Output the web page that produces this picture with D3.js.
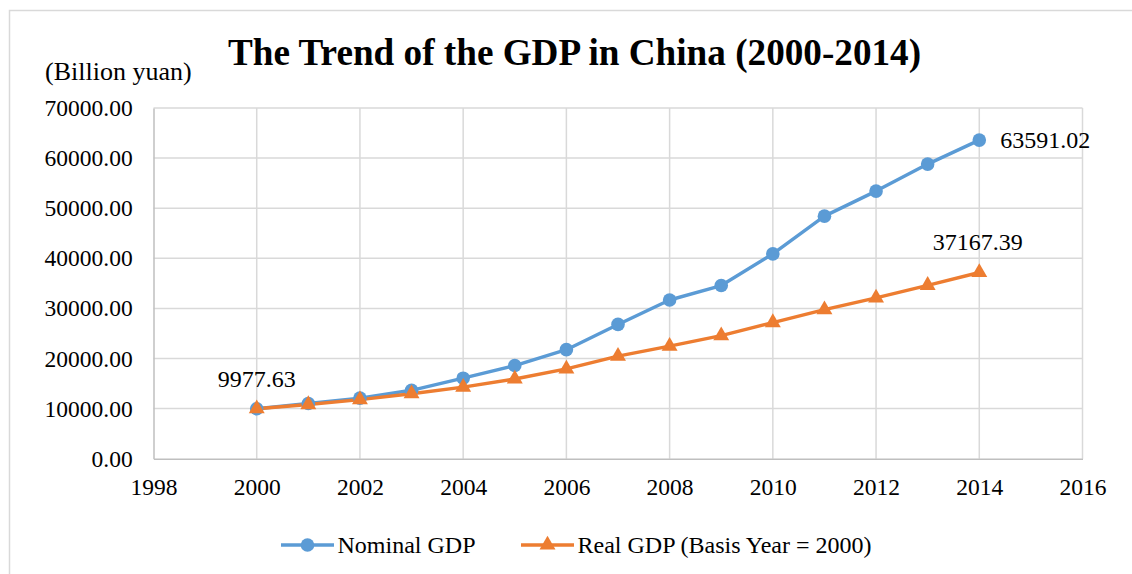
<!DOCTYPE html>
<html>
<head>
<meta charset="utf-8">
<script src="https://cdn.jsdelivr.net/npm/d3@7"></script>
<style>
  html, body { margin: 0; padding: 0; background: #fff; }
  svg { display: block; }
  svg text { font-family: "Liberation Serif", "Times New Roman", Times, serif !important; fill: #000; }
</style>
</head>
<body>
<svg id="chart" width="1132" height="574"></svg>
<script>
// GDP of China, billion yuan
const years = [2000, 2001, 2002, 2003, 2004, 2005, 2006, 2007, 2008, 2009, 2010, 2011, 2012, 2013, 2014];
const nominalGDP = [9977.63, 11027.04, 12100.20, 13656.46, 16071.44, 18589.58, 21765.66, 26801.94,
                    31675.17, 34562.92, 40890.30, 48412.35, 53412.30, 58801.88, 63591.02];
const realGDP = [9977.63, 10806, 11789, 12968, 14278, 15906, 17926, 20471,
                 22457, 24568, 27172, 29753, 32103, 34608, 37167.39];
const xTicks = [1998, 2000, 2002, 2004, 2006, 2008, 2010, 2012, 2014, 2016];
const yTicks = [0, 10000, 20000, 30000, 40000, 50000, 60000, 70000];
const seriesNames = ["Nominal GDP", "Real GDP (Basis Year = 2000)"];
const colors = ["#5B9BD5", "#ED7D31"];

const svg = d3.select("#chart");

// outer chart frame
svg.append("rect")
  .attr("x", 9.5).attr("y", 10.5)
  .attr("width", 1140).attr("height", 580)
  .attr("fill", "none").attr("stroke", "#d9d9d9").attr("stroke-width", 1.5);

const plot = { left: 153.5, right: 1082.5, top: 108, bottom: 458.7 };

const x = d3.scaleLinear().domain([1998, 2016]).range([plot.left, plot.right]);
const y = d3.scaleLinear().domain([0, 70000]).range([plot.bottom, plot.top]);

// gridlines
const grid = svg.append("g");
grid.selectAll("line.h").data(yTicks.slice(1)).join("line")
  .attr("x1", plot.left).attr("x2", plot.right)
  .attr("y1", d => y(d)).attr("y2", d => y(d))
  .attr("stroke", "#d9d9d9").attr("stroke-width", 1.5);
grid.selectAll("line.v").data(xTicks.slice(1)).join("line")
  .attr("x1", d => x(d)).attr("x2", d => x(d))
  .attr("y1", plot.top).attr("y2", plot.bottom)
  .attr("stroke", "#d9d9d9").attr("stroke-width", 1.5);

// axes
const xAxis = svg.append("g").attr("transform", `translate(0,${plot.bottom})`)
  .call(d3.axisBottom(x).tickValues(xTicks).tickSize(0).tickFormat(d3.format("d")));
xAxis.attr("font-family", null);
xAxis.select(".domain").attr("stroke", "#bfbfbf").attr("stroke-width", 1.5);
xAxis.selectAll("text")
  .attr("dy", null).attr("y", 36.3)
  .style("font-size", "23.5px").attr("fill", "#000");

const yAxis = svg.append("g").attr("transform", `translate(${plot.left},0)`)
  .call(d3.axisLeft(y).tickValues(yTicks).tickSize(0).tickFormat(d3.format(".2f")));
yAxis.attr("font-family", null);
yAxis.select(".domain").attr("stroke", "#bfbfbf").attr("stroke-width", 1.5);
yAxis.selectAll("text")
  .attr("x", -20.8).attr("dy", "0.32em")
  .style("font-size", "23.5px").attr("fill", "#000");

// title and unit label
svg.append("text")
  .attr("x", 574.5).attr("y", 65)
  .attr("text-anchor", "middle")
  .style("font-size", "37.2px").style("font-weight", "bold")
  .text("The Trend of the GDP in China (2000-2014)");

svg.append("text")
  .attr("x", 45).attr("y", 80)
  .style("font-size", "26px")
  .text("(Billion yuan)");

// series lines
const series = [nominalGDP, realGDP];
const line = d3.line().x((d, i) => x(years[i])).y(d => y(d));
const triangle = d3.symbol().type(d3.symbolTriangle).size(110);

series.forEach((vals, s) => {
  svg.append("path")
    .datum(vals)
    .attr("d", line)
    .attr("fill", "none")
    .attr("stroke", colors[s])
    .attr("stroke-width", 3.4)
    .attr("stroke-linejoin", "round");
});

// markers
svg.append("g").selectAll("circle").data(nominalGDP).join("circle")
  .attr("cx", (d, i) => x(years[i])).attr("cy", d => y(d))
  .attr("r", 6.8).attr("fill", colors[0]);

svg.append("g").selectAll("path").data(realGDP).join("path")
  .attr("d", triangle)
  .attr("transform", (d, i) => `translate(${x(years[i])},${y(d)})`)
  .attr("fill", colors[1]);

// data labels
const fmt = d3.format(".2f");
svg.append("text")
  .attr("x", x(years[0])).attr("y", y(nominalGDP[0]) - 22)
  .attr("text-anchor", "middle").style("font-size", "24px")
  .text(fmt(nominalGDP[0]));
svg.append("text")
  .attr("x", x(years[14]) + 21).attr("y", y(nominalGDP[14]) + 8)
  .style("font-size", "24px")
  .text(fmt(nominalGDP[14]));
svg.append("text")
  .attr("x", x(years[14]) - 1.5).attr("y", y(realGDP[14]) - 22)
  .attr("text-anchor", "middle").style("font-size", "24px")
  .text(fmt(realGDP[14]));

// legend
const legendItems = [
  { x0: 281, name: seriesNames[0], color: colors[0], shape: "circle" },
  { x0: 521, name: seriesNames[1], color: colors[1], shape: "triangle" }
];
const ly = 545;
const lg = svg.append("g");
legendItems.forEach(item => {
  lg.append("line")
    .attr("x1", item.x0).attr("x2", item.x0 + 53)
    .attr("y1", ly).attr("y2", ly)
    .attr("stroke", item.color).attr("stroke-width", 3.4);
  if (item.shape === "circle") {
    lg.append("circle").attr("cx", item.x0 + 26.5).attr("cy", ly).attr("r", 6.8).attr("fill", item.color);
  } else {
    lg.append("path").attr("d", triangle).attr("transform", `translate(${item.x0 + 26.5},${ly})`).attr("fill", item.color);
  }
  lg.append("text")
    .attr("x", item.x0 + 56.5).attr("y", ly + 8)
    .style("font-size", "24px")
    .text(item.name);
});
</script>
</body>
</html>
